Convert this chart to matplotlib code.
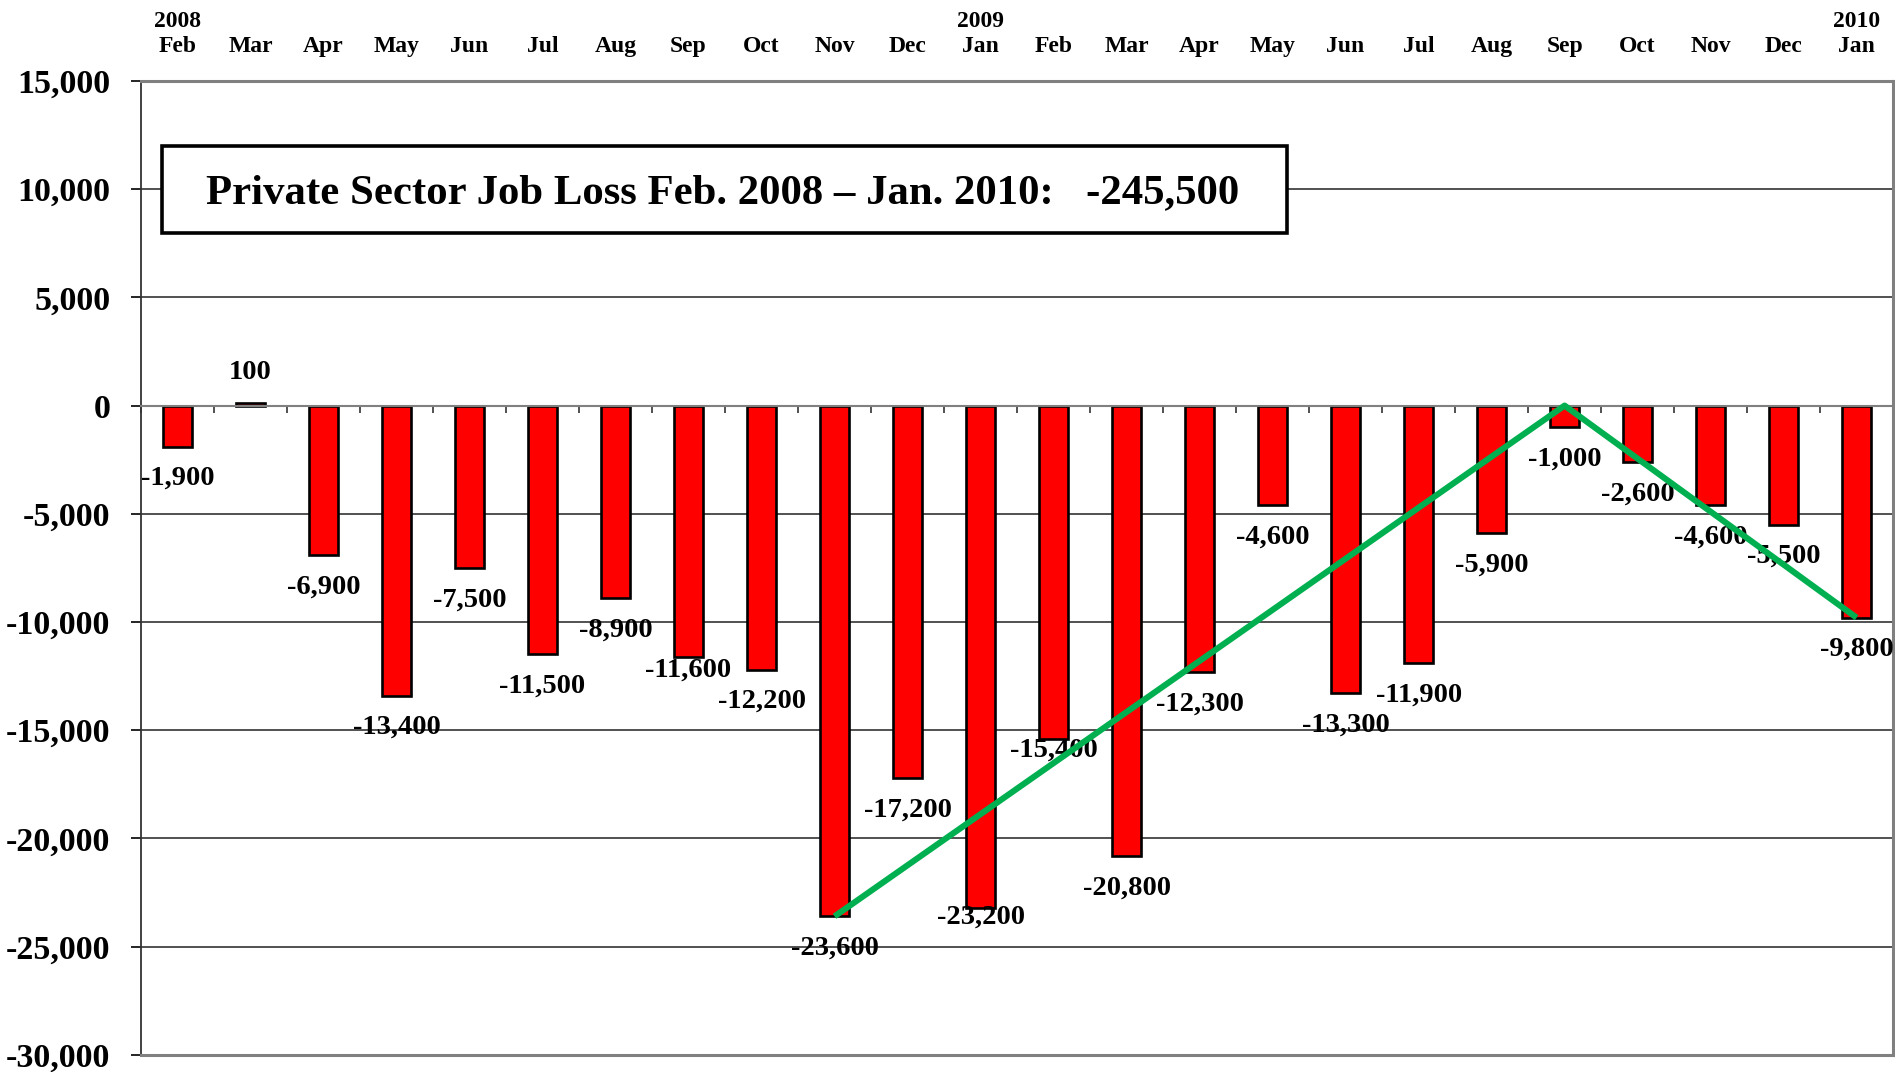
"""Private sector monthly job change, Feb 2008 - Jan 2010, with trend line."""

import matplotlib
matplotlib.use("Agg")
import matplotlib.pyplot as plt
import numpy as np
from matplotlib.patches import Rectangle

months = ["2008\nFeb", "Mar", "Apr", "May", "Jun", "Jul", "Aug", "Sep", "Oct", "Nov", "Dec",
          "2009\nJan", "Feb", "Mar", "Apr", "May", "Jun", "Jul", "Aug", "Sep", "Oct", "Nov",
          "Dec", "2010\nJan"]
job_change = [-1900, 100, -6900, -13400, -7500, -11500, -8900, -11600, -12200, -23600,
              -17200, -23200, -15400, -20800, -12300, -4600, -13300, -11900, -5900, -1000,
              -2600, -4600, -5500, -9800]
trend_idx = [9, 19, 23]
trend_vals = [-23600, 0, -9800]
y_ticks = [-30000, -25000, -20000, -15000, -10000, -5000, 0, 5000, 10000, 15000]
title_text = "Private Sector Job Loss Feb. 2008 \u2013 Jan. 2010:   -245,500"

plt.rcParams["font.family"] = ["Liberation Serif", "DejaVu Serif"]
plt.rcParams["font.weight"] = "bold"

fig = plt.figure(figsize=(18.95, 10.72), dpi=100)
ax = fig.add_axes([0.0744, 0.016, 0.9246, 0.9085])

x = np.arange(len(job_change))
ax.bar(x, job_change, width=0.4, color="#ff0000", edgecolor="black",
       linewidth=1.9, zorder=2)
ax.plot(trend_idx, trend_vals, color="#00b050", linewidth=4.4, zorder=5,
        solid_capstyle="butt")

# a few labels were pulled up closer to their bars in the original
nudged = {7: -10, 11: -6.5, 12: -8}
for xi, v in zip(x, job_change):
    off = 22 if v >= 0 else -23
    off = nudged.get(xi, off)
    ax.annotate(f"{v:,}", (xi, v), xytext=(0, off), textcoords="offset points",
                ha="center", va="center", fontsize=20.5, fontweight="bold", zorder=4)

ax.set_xlim(-0.5, len(job_change) - 0.5)
ax.set_ylim(y_ticks[0], y_ticks[-1])

# y axis
ax.set_yticks(y_ticks)
ax.set_yticklabels([f"{v:,}" for v in y_ticks])
ax.tick_params(axis="y", direction="out", length=7, width=1.2, pad=15, labelsize=24.5)
ax.yaxis.grid(True, color="#222222", linewidth=1.1)
ax.set_axisbelow(True)

# x axis: labels on top, boundary ticks on the zero line
ax.set_xticks(x)
ax.set_xticklabels(months)
ax.set_xticks(np.arange(-0.5, len(job_change), 1), minor=True)
ax.tick_params(axis="x", which="major", bottom=False, top=False, labelbottom=False,
               labeltop=True, labelsize=17, pad=14)
ax.tick_params(axis="x", which="minor", bottom=True, top=False, direction="out",
               length=5, width=1.2, color="#333333")
for lbl in ax.get_xticklabels():
    lbl.set_linespacing(1.15)

ax.spines["bottom"].set_position(("data", 0))
ax.spines["bottom"].set_color("#808080")
ax.spines["bottom"].set_linewidth(1.5)
ax.spines["left"].set_color("#333333")
ax.spines["left"].set_linewidth(1.3)
for side in ("top", "right"):
    ax.spines[side].set_color("#808080")
    ax.spines[side].set_linewidth(2.2)
ax.axhline(y_ticks[0], color="#808080", linewidth=2.2, clip_on=False, zorder=3)

# title box
ax.add_patch(Rectangle((0.012, 0.844), 0.642, 0.089, transform=ax.transAxes,
                       facecolor="white", edgecolor="black", linewidth=2.6, zorder=3))
ax.text(0.332, 0.885, title_text, transform=ax.transAxes, ha="center", va="center",
        fontsize=30.8, fontweight="bold", zorder=4)

fig.savefig("out.png", dpi=100)
plt.close(fig)
